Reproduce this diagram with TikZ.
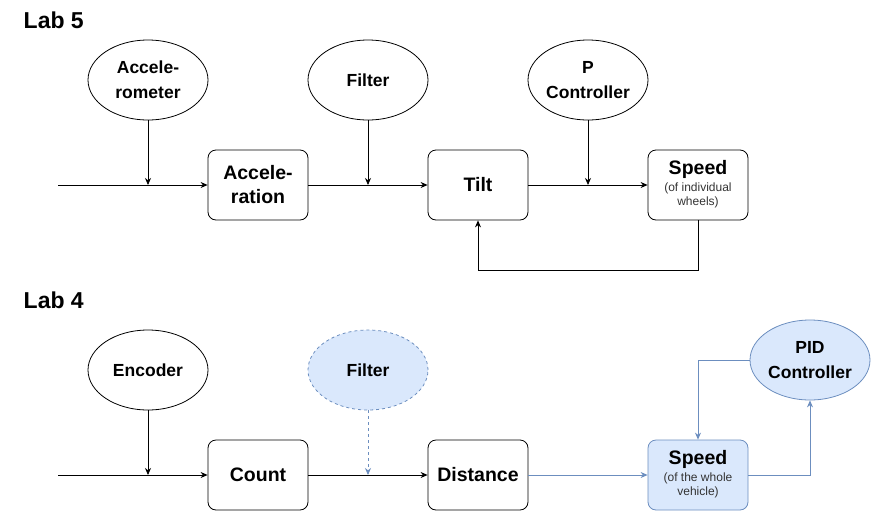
\documentclass[tikz,border=0pt]{standalone}
\usepackage{fontspec}
\setmainfont{Liberation Sans}
\usetikzlibrary{arrows.meta}
\usetikzlibrary{shapes.geometric}

\definecolor{fillblue}{HTML}{DAE8FC}
\definecolor{lineblue}{HTML}{6C8EBF}

\newcommand{\subnote}[1]{{\fontsize{12}{14}\selectfont\mdseries\color{black!80}\begin{tabular}{@{}c@{}}#1\end{tabular}}}

\tikzset{
  sensor/.style={ellipse, draw, minimum width=120pt, minimum height=80pt, inner sep=0pt, align=center, font={\fontsize{17.5}{25}\selectfont\bfseries}},
  block/.style={rectangle, rounded corners=8pt, draw, minimum width=100pt, minimum height=70pt, inner sep=0pt, align=center, font={\fontsize{19.5}{24}\selectfont\bfseries}},
  flow/.style={-{Stealth[length=7pt,width=6pt]}, line width=0.8pt},
  title/.style={anchor=base west, font={\fontsize{23}{26}\selectfont\bfseries}}
}

\begin{document}
\begin{tikzpicture}[x=1pt, y=-1pt, line width=0.8pt]
  \useasboundingbox (0,0) rectangle (871,512);

  % ---------- Lab 5 ----------

  \node[title] (lab5) at (20,28) {Lab 5};

  % Shapes
  \node[sensor] (accm) at (148,80) {Accele-\\rometer};
  \node[sensor] (filt5) at (368,80) {Filter};
  \node[sensor] (pctl) at (588,80) {P\\Controller};

  \node[block] (accel) at (258,185) {Accele-\\ration};
  \node[block] (tilt) at (478,185) {Tilt};
  \node[block] (spd5) at (698,185) {Speed\\[0pt]\subnote{(of individual\\wheels)}};
  \coordinate (in5) at (58,185);

  % Lines
  \draw[flow] (in5) -- (accel.west);
  \draw[flow] (accel.east) -- (tilt.west);
  \draw[flow] (tilt.east) -- (spd5.west);
  \draw[flow] (accm.south) -- (accm.south |- in5);
  \draw[flow] (filt5.south) -- (filt5.south |- accel.east);
  \draw[flow] (pctl.south) -- (pctl.south |- tilt.east);
  \draw[flow] (spd5.south) -- ++(0,50) -| (tilt.south);

  % ---------- Lab 4 ----------

  \node[title] (lab4) at (20,308) {Lab 4};

  % Shapes
  \node[sensor] (enc) at (148,370) {Encoder};
  \node[sensor, fill=fillblue, draw=lineblue, dash pattern=on 3pt off 3pt] (filt4) at (368,370) {Filter};
  \node[sensor, fill=fillblue, draw=lineblue] (pid) at (810,360) {PID\\Controller};

  \node[block] (count) at (258,475) {Count};
  \node[block] (dist) at (478,475) {Distance};
  \node[block, fill=fillblue, draw=lineblue] (spd4) at (698,475) {Speed\\[0pt]\subnote{(of the whole\\vehicle)}};
  \coordinate (in4) at (58,475);

  % Lines
  \draw[flow] (in4) -- (count.west);
  \draw[flow] (count.east) -- (dist.west);
  \draw[flow] (enc.south) -- (enc.south |- in4);
  \draw[flow, lineblue, dash pattern=on 3pt off 3pt] (filt4.south) -- (filt4.south |- count.east);
  \draw[flow, lineblue] (dist.east) -- (spd4.west);
  \draw[flow, lineblue] (spd4.east) -| (pid.south);
  \draw[flow, lineblue] (pid.west) -| (spd4.north);
\end{tikzpicture}
\end{document}
